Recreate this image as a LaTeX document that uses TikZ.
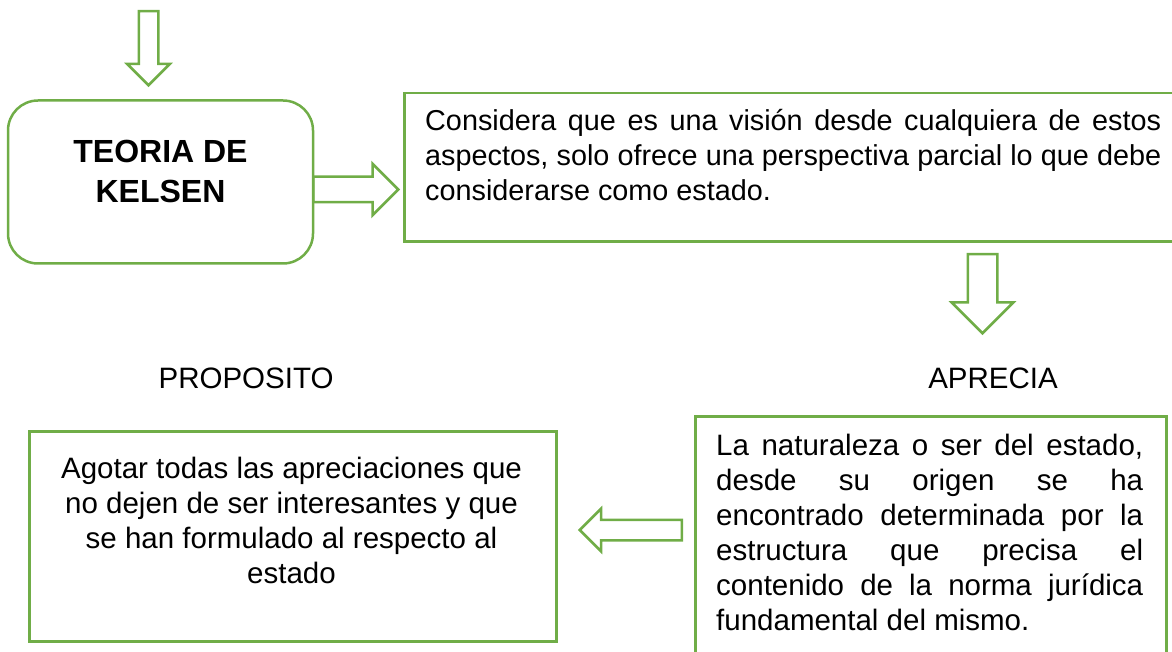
\documentclass[tikz,border=0pt]{standalone}
\usepackage{fontspec}
\setmainfont{Liberation Sans}
\usetikzlibrary{shapes.arrows, positioning}
\definecolor{kelsengreen}{RGB}{112,173,71}
\hbadness=10000

\begin{document}
\begin{tikzpicture}[
    x=1pt, y=-1pt,
    box/.style={draw=kelsengreen, line width=2.5pt, inner sep=0pt},
    txt/.style={inner sep=0pt, font=\fontsize{29.5}{35}\selectfont},
    blockarrow/.style args={#1/#2/#3}{single arrow, draw=kelsengreen, line width=2.5pt,
        minimum height=#1, inner xsep=0pt, inner ysep=#2,
        single arrow head extend=#3, anchor=tail}
]
    \clip (0,0) rectangle (1172,652);

    % boxes
    \node[box, rounded corners=30pt, minimum width=305pt, minimum height=163pt] (kelsen) at (160.5,182) {};
    \node[box, minimum width=790pt, minimum height=148.5pt, anchor=north west] (vision) at (403,92) {};
    \node[box, minimum width=471pt, minimum height=260pt, anchor=north west] (aprecia) at (694,415) {};
    \node[box, minimum width=527pt, minimum height=210pt, anchor=north west] (proposito) at (28,430) {};

    % texts
    \node[inner sep=0pt, font=\fontsize{32}{40}\selectfont\bfseries, align=center, anchor=north] (kelsentxt) at (160.5,140) {TEORIA DE\\KELSEN};
    \node[txt, font=\fontsize{28.8}{35}\selectfont, text width=736pt, align=justify, anchor=north west] (visiontxt) at (425,109)
        {Considera que es una visión desde cualquiera de estos\linebreak aspectos, solo ofrece una perspectiva parcial lo que debe\linebreak considerarse como estado.};
    \node[txt, text width=427pt, align=justify, anchor=north west] (apreciatxt) at (716,434)
        {La naturaleza o ser del estado,\linebreak desde su origen se ha\linebreak encontrado determinada por la\linebreak estructura que precisa el\linebreak contenido de la norma jurídica\linebreak fundamental del mismo.};
    \node[txt, align=center, anchor=north] (propositotxt) at (291.5,457)
        {Agotar todas las apreciaciones que\\no dejen de ser interesantes y que\\se han formulado al respecto al\\estado};
    \node[txt, anchor=base] (lblproposito) at (246,388) {PROPOSITO};
    \node[txt, anchor=base] (lblaprecia) at (993,388) {APRECIA};

    % block arrows
    \node[blockarrow=74pt/8.5pt/11.5pt, rotate=-90] (intoarrow) at (148.5,10) {};
    \node[blockarrow=85pt/11.5pt/13pt] (kelsenarrow) at (312,189.5) {};
    \node[blockarrow=79pt/13.5pt/16pt, rotate=-90] (visionarrow) at (982.5,253) {};
    \node[blockarrow=102pt/9pt/11pt, rotate=180] (apreciaarrow) at (683,530) {};
\end{tikzpicture}
\end{document}
